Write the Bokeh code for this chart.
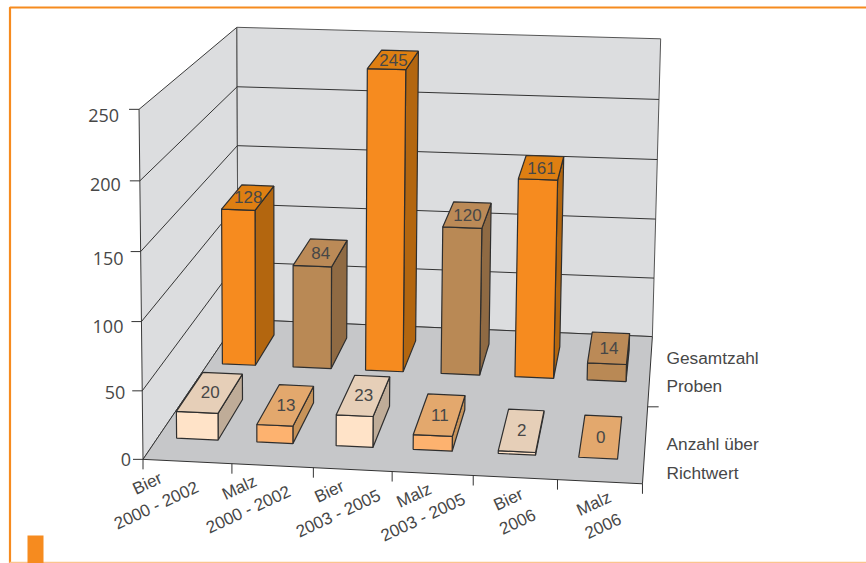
import numpy as np
from bokeh.embed import file_html
from bokeh.resources import INLINE
from bokeh.models import Range1d
from bokeh.plotting import figure
from bokeh.core.properties import value

# Sample counts per malt/beer group and period
group_names = ["Bier", "Malz", "Bier", "Malz", "Bier", "Malz"]
period_names = ["2000 - 2002", "2000 - 2002", "2003 - 2005", "2003 - 2005", "2006", "2006"]
over_limit = [20, 13, 23, 11, 2, 0]
total_samples = [128, 84, 245, 120, 161, 14]
y_ticks = [0, 50, 100, 150, 200, 250]
row_lines = [["Anzahl über", "Richtwert"], ["Gesamtzahl", "Proben"]]

# Face colours (front, top, side)
beer_total = ("#F68B1F", "#DE7F12", "#B3660F")
malt_total = ("#B98955", "#BB8A57", "#8F6A43")
beer_over = ("#FFE3C8", "#E6CFB8", "#BFAC98")
malt_over = ("#FDB26F", "#E3A86D", "#C79359")
INK = "#474747"
EDGE = "#2e2e2e"
FONT = value("Liberation Sans")

YMAX = y_ticks[-1]
NCOL = len(over_limit)

# Column boundaries along the front edge are not quite even; map them before projecting
tick_stops = [0.0, 1.09, 2.08, 3.03, 4.0, 5.0, 6.0]
# Sideways bar placement per row, in column widths
back_shift = [-0.07, -0.165, -0.155, -0.075, -0.05, -0.08]
back_width = [0.42, 0.53, 0.54, 0.54, 0.52, 0.52]
front_shift = [-0.045, -0.105, -0.10, -0.10, -0.03, -0.05]
front_width = [0.48, 0.455, 0.48, 0.495, 0.455, 0.47]
BACK_HEIGHT = 0.985
# Small page-pixel adjustments of axis and category labels
tick_label_dx = [6, 1, 0, 1, -1, -2]
tick_label_dy = [0, 2, 5, 7, 4, 6]
category_dx = [0, 0, 3, 1, 6, 0]

# Perspective camera fitted to the corners of the box (column, value, depth) -> page pixels
anchors = [
    ((0, 0, 0), (143, 457)), ((NCOL, 0, 0), (642, 485)),
    ((0, 0, 1), (237, 321)), ((NCOL, 0, 1), (652, 334)),
    ((0, YMAX, 0), (138, 109)), ((0, YMAX, 1), (237, 26)),
    ((NCOL, YMAX, 1), (660, 39)),
]
rows = []
for (a, b, c), (u, v) in anchors:
    rows.append([a, b, c, 1, 0, 0, 0, 0, -u * a, -u * b, -u * c, -u])
    rows.append([0, 0, 0, 0, a, b, c, 1, -v * a, -v * b, -v * c, -v])
scale = np.array([1 / NCOL, 1 / YMAX, 1, 1])
A = np.array(rows, dtype=float)
A = A * np.concatenate([scale, scale, scale])
H = (np.linalg.svd(A)[2][-1] * np.concatenate([scale, scale, scale])).reshape(3, 4)


def proj(x, y, z):
    q = H @ np.array([np.interp(x, range(NCOL + 1), tick_stops), y, z, 1.0])
    return q[0] / q[2], q[1] / q[2]


def quad(points):
    pts = [proj(*pt) for pt in points]
    return [pt[0] for pt in pts], [pt[1] for pt in pts]


p = figure(width=866, height=563, output_backend="svg", toolbar_location=None,
           x_range=Range1d(0, 866), y_range=Range1d(563, 0), min_border=0,
           outline_line_color=None, background_fill_color="white")
p.axis.visible = False
p.grid.visible = False

# Page frame and corner marker
p.line([866, 9.5, 9.5], [7, 7, 563], line_color="#F68B1F", line_width=2.2)
p.line([9, 866], [562, 562], line_color="#FBC48E", line_width=1.5)
p.quad(left=27, right=43, top=535, bottom=563, fill_color="#F68B1F", line_color=None)


def draw_faces(faces, color, line=EDGE, width=1.2):
    xs, ys = zip(*[quad(f) for f in faces])
    p.patches(list(xs), list(ys), fill_color=color, line_color=line, line_width=width)


# Walls and floor
draw_faces([[(0, 0, 0), (0, 0, 1), (0, YMAX, 1), (0, YMAX, 0)]], "#DCDDDF", "#3a3a3a", 1.0)
draw_faces([[(0, 0, 1), (NCOL, 0, 1), (NCOL, YMAX, 1), (0, YMAX, 1)]], "#DCDDDF", "#555555", 1.0)
draw_faces([[(0, 0, 0), (NCOL, 0, 0), (NCOL, 0, 1), (0, 0, 1)]], "#C6C7C9", "#333333", 1.0)

# Gridlines on both walls
for t in y_ticks[1:-1]:
    gx, gy = quad([(0, t, 0), (0, t, 1), (NCOL, t, 1)])
    p.line(gx, gy, line_color="#333333", line_width=1)

# Axis ticks and labels
for t in y_ticks:
    tx, ty = proj(0, t, 0)
    p.line([tx - 10, tx], [ty, ty], line_color="#333333", line_width=1)
p.text([proj(0, t, 0)[0] - 18 + d for t, d in zip(y_ticks, tick_label_dx)],
       [proj(0, t, 0)[1] + d for t, d in zip(y_ticks, tick_label_dy)],
       text=[str(t) for t in y_ticks], text_font=value("Open Sans"), text_font_size="18px",
       text_color=INK, text_align="right", text_baseline="middle")
for k in range(NCOL + 1):
    tx, ty = proj(k, 0, 0)
    p.line([tx, tx], [ty, ty + 10], line_color="#333333", line_width=1)
dx, dy = proj(NCOL, 0, 0.475)
p.line([dx, dx + 11], [dy, dy], line_color="#333333", line_width=1)


# Bars, back row first so the front row overlaps it
def bar(x0, x1, val, z0, z1, colors, height=1.0):
    top = val * height
    if val > 0:
        draw_faces([[(x1, 0, z0), (x1, 0, z1), (x1, top, z1), (x1, top, z0)]], colors[2])
        draw_faces([[(x0, 0, z0), (x1, 0, z0), (x1, top, z0), (x0, top, z0)]], colors[0])
    draw_faces([[(x0, top, z0), (x1, top, z0), (x1, top, z1), (x0, top, z1)]], colors[1])
    cx, cy = proj((x0 + x1) / 2, top, (z0 + z1) / 2)
    p.text([cx], [cy], text=[str(val)], text_font=FONT, text_font_size="17px", text_color=INK,
           text_align="center", text_baseline="middle")


for i, v in enumerate(total_samples):
    x0 = i + 0.25 + back_shift[i]
    bar(x0, x0 + back_width[i], v, 0.645, 0.885, beer_total if i % 2 == 0 else malt_total, BACK_HEIGHT)
for i, v in enumerate(over_limit):
    x0 = i + 0.26 + front_shift[i]
    bar(x0, x0 + front_width[i], v, 0.135, 0.40, beer_over if i % 2 == 0 else malt_over)

# Rotated category labels under the front edge
for i in range(NCOL):
    fx, fy = proj(i + 0.5, 0, 0)
    lean = -23 + 6.8 * (i - 2.5) + category_dx[i]
    for text, ox, oy in ((group_names[i], lean, 22), (period_names[i], lean + 9, 44)):
        p.text([fx + ox], [fy + oy], text=[text], angle=[25], angle_units="deg", text_font=FONT,
               text_font_size="17px", text_color=INK, text_align="center", text_baseline="middle")

# Row names beside the right edge of the floor
for lines, shift in zip(row_lines, (51.5, -35)):
    for j, line in enumerate(lines):
        p.text([666], [dy + shift + (j - 0.5) * 28.5], text=[line], text_font=FONT,
               text_font_size="17.3px", text_color=INK, text_align="left", text_baseline="middle")

open("out.html", "w").write(file_html(p, INLINE))
